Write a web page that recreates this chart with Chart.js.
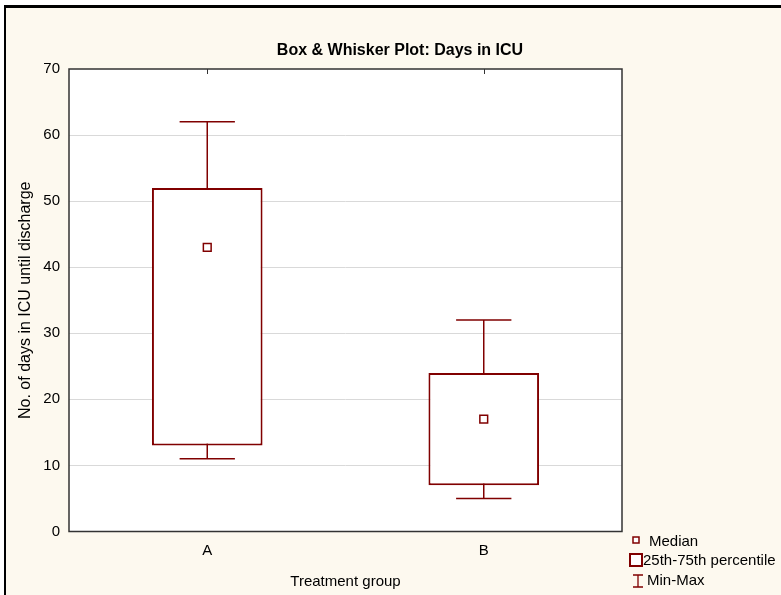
<!DOCTYPE html>
<html><head><meta charset="utf-8">
<script src="https://cdn.jsdelivr.net/npm/chart.js@4.4.0/dist/chart.umd.min.js"></script>
<style>html,body{margin:0;padding:0;background:#fff;} #wrap{position:relative;width:781px;height:595px;}</style>
</head><body><div id="wrap"><canvas id="c"></canvas></div>
<script>
const categories = ['A', 'B'];
const minValues = [11, 5];
const q1Values = [13, 7];
const medianValues = [43, 17];
const q3Values = [52, 24];
const maxValues = [62, 32];
const yTicks = [0, 10, 20, 30, 40, 50, 60, 70];
const legendLabels = ['Median', '25th-75th percentile', 'Min-Max'];
const chartTitle = 'Box & Whisker Plot: Days in ICU';
const xTitle = 'Treatment group';
const yTitle = 'No. of days in ICU until discharge';

const FONT = "'Liberation Sans', Arial, sans-serif";
const RED = '#800000';
const CREAM = '#FDF9EF';

const framePlugin = {
  id: 'frame',
  beforeDraw(chart) {
    const {ctx, width, height, chartArea: a} = chart;
    ctx.save();
    ctx.fillStyle = '#ffffff';
    ctx.fillRect(0, 0, width, height);
    ctx.fillStyle = CREAM;
    ctx.fillRect(5, 7, width, height);
    ctx.fillStyle = '#ffffff';
    ctx.fillRect(a.left, a.top, a.right - a.left, a.bottom - a.top);
    ctx.fillStyle = '#000';
    ctx.fillRect(4, 5, width - 4, 3);
    ctx.fillRect(4, 5, 2, height);
    ctx.restore();
  },
  beforeDatasetsDraw(chart) {
    const {ctx, chartArea: a, scales} = chart;
    const x = scales.x, y = scales.y;
    ctx.save();
    ctx.strokeStyle = '#333';
    ctx.lineWidth = 1.5;
    ctx.strokeRect(a.left, a.top, a.right - a.left, a.bottom - a.top);
    ctx.lineWidth = 1;
    ctx.beginPath();
    categories.forEach((c, i) => {
      const px = Math.round(x.getPixelForValue(i)) + 0.5;
      ctx.moveTo(px, a.top);
      ctx.lineTo(px, a.top + 5);
    });
    ctx.stroke();
    const meta = chart.getDatasetMeta(0);
    ctx.strokeStyle = RED;
    ctx.lineWidth = 1.5;
    categories.forEach((c, i) => {
      const px = x.getPixelForValue(i);
      const bw = meta.data[i] ? meta.data[i].width : 100;
      const half = bw / 4;
      const yMin = y.getPixelForValue(minValues[i]);
      const yMax = y.getPixelForValue(maxValues[i]);
      ctx.beginPath();
      ctx.moveTo(px, yMin); ctx.lineTo(px, yMax);
      ctx.moveTo(px - half, yMin); ctx.lineTo(px + half, yMin);
      ctx.moveTo(px - half, yMax); ctx.lineTo(px + half, yMax);
      ctx.stroke();
    });
    ctx.restore();
  },
  afterDraw(chart) {
    const {ctx} = chart;
    ctx.save();
    ctx.strokeStyle = RED;
    ctx.fillStyle = '#fff';
    ctx.lineWidth = 1.5;
    ctx.fillRect(633, 537, 6, 6);
    ctx.strokeRect(633, 537, 6, 6);
    ctx.lineWidth = 2;
    ctx.fillRect(630, 554, 12, 12);
    ctx.strokeRect(630, 554, 12, 12);
    ctx.lineWidth = 1.3;
    ctx.beginPath();
    ctx.moveTo(638, 575); ctx.lineTo(638, 587);
    ctx.moveTo(633, 575); ctx.lineTo(643, 575);
    ctx.moveTo(633, 587); ctx.lineTo(643, 587);
    ctx.stroke();
    ctx.fillStyle = '#000';
    ctx.font = '15px ' + FONT;
    ctx.textBaseline = 'middle';
    ctx.textAlign = 'left';
    ctx.fillText(legendLabels[0], 649, 542);
    ctx.fillText(legendLabels[1], 643, 561);
    ctx.fillText(legendLabels[2], 647, 581);
    ctx.restore();
  }
};

new Chart(document.getElementById('c'), {
  data: {
    labels: categories,
    datasets: [
      {
        type: 'bar',
        label: legendLabels[1],
        data: categories.map((c, i) => [q1Values[i], q3Values[i]]),
        backgroundColor: '#ffffff',
        borderColor: RED,
        borderWidth: 2,
        borderSkipped: false,
        barPercentage: 0.4,
        categoryPercentage: 1.0,
        order: 2
      },
      {
        type: 'line',
        label: legendLabels[0],
        data: medianValues,
        showLine: false,
        pointStyle: 'rect',
        pointRadius: 5.5,
        pointHoverRadius: 5.5,
        pointBorderWidth: 1.5,
        pointBackgroundColor: '#ffffff',
        pointBorderColor: RED,
        order: 0
      }
    ]
  },
  options: {
    responsive: true,
    maintainAspectRatio: false,
    animation: false,
    layout: {padding: {left: 19, top: 0, right: 0, bottom: 0}},
    plugins: {
      legend: {display: false},
      tooltip: {enabled: false},
      title: {
        display: true,
        text: chartTitle,
        color: '#000',
        font: {family: FONT, size: 16, weight: 'bold', lineHeight: 1.2},
        padding: {top: 41.4, bottom: 8.4}
      }
    },
    scales: {
      x: {
        type: 'category',
        offset: true,
        grid: {display: false, drawTicks: false},
        border: {display: false},
        ticks: {color: '#000', font: {family: FONT, size: 15}, padding: 10},
        title: {display: true, text: xTitle, color: '#000', font: {family: FONT, size: 15}, padding: {top: 0, bottom: 4}},
        afterFit(s) { s.height = 63.5; }
      },
      y: {
        type: 'linear',
        min: 0,
        max: 70,
        afterBuildTicks(s) { s.ticks = yTicks.map(v => ({value: v})); },
        grid: {
          drawTicks: false,
          color: (c) => (c.tick && (c.tick.value === 0 || c.tick.value === 70)) ? 'rgba(0,0,0,0)' : '#d9d9d9',
          lineWidth: 1
        },
        border: {display: false},
        ticks: {color: '#000', font: {family: FONT, size: 15}, padding: 9},
        title: {display: true, text: yTitle, color: '#000', font: {family: FONT, size: 16, lineHeight: 1}, padding: {top: -1, bottom: 0}},
        afterFit(s) { s.width = 50; }
      },
      spacer: {
        type: 'linear',
        position: 'right',
        display: true,
        grid: {display: false, drawTicks: false},
        border: {display: false},
        ticks: {display: false},
        afterFit(s) { s.width = 159; }
      }
    }
  },
  plugins: [framePlugin]
});
</script>
</body></html>
